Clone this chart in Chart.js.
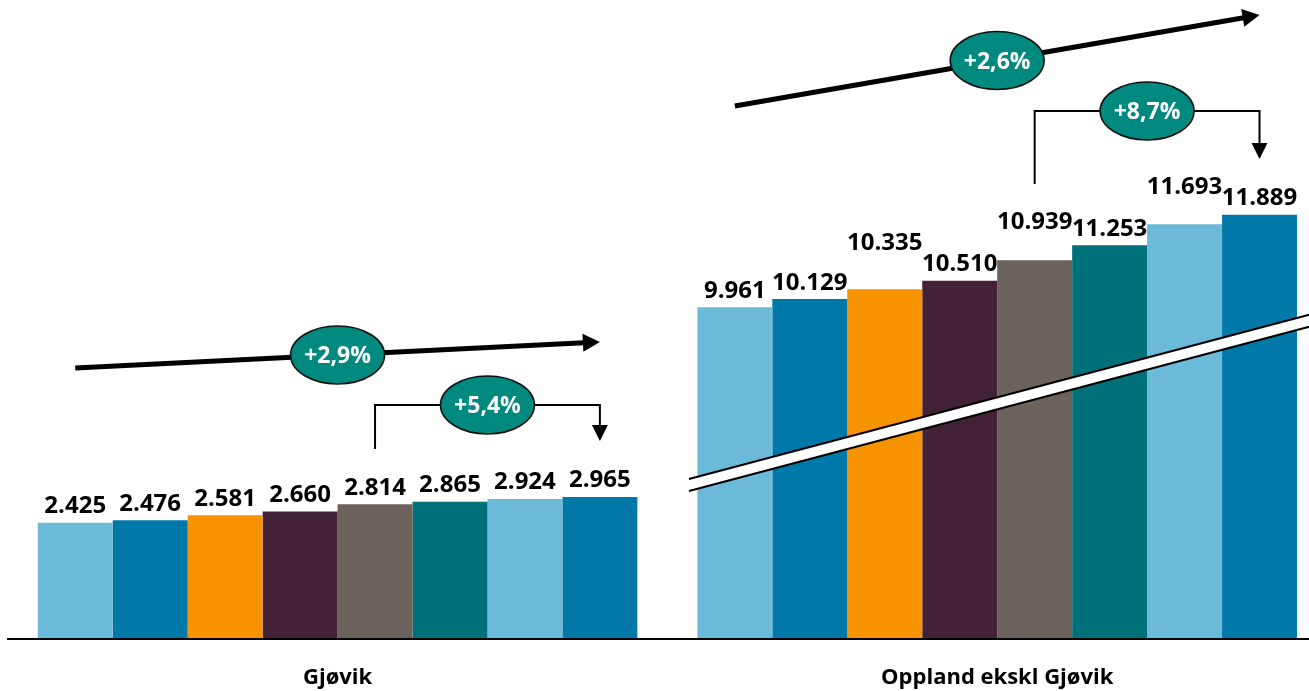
<!DOCTYPE html>
<html lang="no">
<head>
<meta charset="utf-8">
<title>Gjøvik og Oppland ekskl Gjøvik</title>
<script src="https://cdn.jsdelivr.net/npm/chart.js@4.4.1/dist/chart.umd.min.js"></script>
<style>
  html, body { margin: 0; padding: 0; background: #fff; overflow: hidden; }
</style>
</head>
<body>
<canvas id="chart" width="1327" height="716"></canvas>
<script>
// categories and series
const regions = ['Gjøvik', 'Oppland ekskl Gjøvik'];
const seriesNames = ['1', '2', '3', '4', '5', '6', '7', '8'];
const gjovik = [2425, 2476, 2581, 2660, 2814, 2865, 2924, 2965];
const oppland = [9961, 10129, 10335, 10510, 10939, 11253, 11693, 11889];
const trendLabels = ['+2,9%', '+2,6%'];
const stepLabels = ['+5,4%', '+8,7%'];

const seriesColors = ['#6bbad9', '#0079a8', '#f79200', '#432136', '#6b625c', '#00707a', '#6bbad9', '#0079a8'];
const FONT = '"Open Sans", Lato, sans-serif';

// right group is drawn on a broken axis that starts at axisBreak
const axisMax = 13000;
const axisBreak = 3030;

// extra lift (px) for labels that would crowd each other
const labelLift = [
  [0, 0, 0, 0, 0, 0, 0, 0],
  [0, 0, 30, 0, 22, 0, 21, 0]
];

const trendArrows = [
  { group: 0, from: 0, to: 7, y0: 368, y1: 342, text: trendLabels[0] },
  { group: 1, from: 0, to: 7, y0: 106, y1: 15, text: trendLabels[1] }
];
const stepArrows = [
  { group: 0, from: 4, to: 7, yStart: 449, yTop: 405, yEnd: 441, text: stepLabels[0] },
  { group: 1, from: 4, to: 7, yStart: 184, yTop: 111, yEnd: 159, text: stepLabels[1] }
];
const breakMark = { x0: 689, y0: 485, x1: 1312, y1: 320, gap: 12 };

const fmt = v => String(v).replace(/\B(?=(\d{3})+(?!\d))/g, '.');

const datasets = [];
gjovik.forEach((v, i) => datasets.push({
  label: seriesNames[i], data: [v, null], backgroundColor: seriesColors[i], yAxisID: 'y', grp: 0, idx: i
}));
oppland.forEach((v, i) => datasets.push({
  label: seriesNames[i], data: [null, v], backgroundColor: seriesColors[i], yAxisID: 'y2', grp: 1, idx: i
}));

function bar(chart, group, series) {
  return chart.getDatasetMeta(group * 8 + series).data[group];
}

function ellipseLabel(ctx, cx, cy, text) {
  ctx.beginPath();
  ctx.ellipse(cx, cy, 47, 29, 0, 0, Math.PI * 2);
  ctx.fillStyle = '#00897e';
  ctx.fill();
  ctx.lineWidth = 1.5;
  ctx.strokeStyle = '#111';
  ctx.stroke();
  ctx.fillStyle = '#fff';
  ctx.font = 'bold 23px ' + FONT;
  ctx.textAlign = 'center';
  ctx.textBaseline = 'alphabetic';
  ctx.fillText(text, cx, cy + 8.2);
}

const decorations = {
  id: 'decorations',
  afterDatasetsDraw(chart) {
    const ctx = chart.ctx;
    ctx.save();

    // axis break band
    const b = breakMark, h = b.gap / 2;
    ctx.beginPath();
    ctx.moveTo(b.x0, b.y0 - h);
    ctx.lineTo(b.x1, b.y1 - h);
    ctx.lineTo(b.x1, b.y1 + h);
    ctx.lineTo(b.x0, b.y0 + h);
    ctx.closePath();
    ctx.fillStyle = '#fff';
    ctx.fill();
    ctx.lineWidth = 2;
    ctx.strokeStyle = '#000';
    ctx.beginPath();
    ctx.moveTo(b.x0, b.y0 - h); ctx.lineTo(b.x1, b.y1 - h);
    ctx.moveTo(b.x0, b.y0 + h); ctx.lineTo(b.x1, b.y1 + h);
    ctx.stroke();

    // value labels
    ctx.font = 'bold 24px ' + FONT;
    ctx.fillStyle = '#000';
    ctx.textAlign = 'center';
    ctx.textBaseline = 'alphabetic';
    chart.data.datasets.forEach((ds, d) => {
      chart.getDatasetMeta(d).data.forEach((el, j) => {
        const v = ds.data[j];
        if (v == null) return;
        ctx.fillText(fmt(v), el.x, el.y - 9.5 - labelLift[ds.grp][ds.idx]);
      });
    });

    // trend arrows
    trendArrows.forEach(a => {
      const x0 = bar(chart, a.group, a.from).x;
      const x1 = bar(chart, a.group, a.to).x;
      const ang = Math.atan2(a.y1 - a.y0, x1 - x0);
      const hl = 17, hw = 9;
      const bx = x1 - hl * Math.cos(ang), by = a.y1 - hl * Math.sin(ang);
      ctx.beginPath();
      ctx.moveTo(x0, a.y0);
      ctx.lineTo(bx + Math.cos(ang), by + Math.sin(ang));
      ctx.lineWidth = 5;
      ctx.strokeStyle = '#000';
      ctx.stroke();
      ctx.beginPath();
      ctx.moveTo(x1, a.y1);
      ctx.lineTo(bx - hw * Math.sin(ang), by + hw * Math.cos(ang));
      ctx.lineTo(bx + hw * Math.sin(ang), by - hw * Math.cos(ang));
      ctx.closePath();
      ctx.fillStyle = '#000';
      ctx.fill();
      ellipseLabel(ctx, (x0 + x1) / 2, (a.y0 + a.y1) / 2, a.text);
    });

    // step arrows
    stepArrows.forEach(a => {
      const x0 = bar(chart, a.group, a.from).x;
      const x1 = bar(chart, a.group, a.to).x;
      ctx.beginPath();
      ctx.moveTo(x0, a.yStart);
      ctx.lineTo(x0, a.yTop);
      ctx.lineTo(x1, a.yTop);
      ctx.lineTo(x1, a.yEnd - 15);
      ctx.lineWidth = 2;
      ctx.strokeStyle = '#000';
      ctx.stroke();
      ctx.beginPath();
      ctx.moveTo(x1, a.yEnd);
      ctx.lineTo(x1 - 8, a.yEnd - 16);
      ctx.lineTo(x1 + 8, a.yEnd - 16);
      ctx.closePath();
      ctx.fillStyle = '#000';
      ctx.fill();
      ellipseLabel(ctx, (x0 + x1) / 2, a.yTop, a.text);
    });

    ctx.restore();
  }
};

new Chart(document.getElementById('chart'), {
  type: 'bar',
  data: { labels: regions, datasets },
  options: {
    responsive: false,
    animation: false,
    layout: { padding: { left: 7.75, right: 0, top: 16.7, bottom: 0 } },
    datasets: { bar: { skipNull: true, categoryPercentage: 0.909, barPercentage: 1, borderWidth: 0 } },
    plugins: { legend: { display: false }, tooltip: { enabled: false } },
    scales: {
      x: {
        grid: { display: false, drawTicks: false },
        border: { display: true, color: '#000', width: 2, z: 1 },
        ticks: { color: '#000', padding: 25.4, maxRotation: 0, font: { family: FONT, size: 22, weight: 'bold', lineHeight: 1.2 } }
      },
      y: { display: false, min: 0, max: axisMax },
      y2: { display: false, min: axisBreak, max: axisMax + axisBreak }
    }
  },
  plugins: [decorations]
});
</script>
</body>
</html>
